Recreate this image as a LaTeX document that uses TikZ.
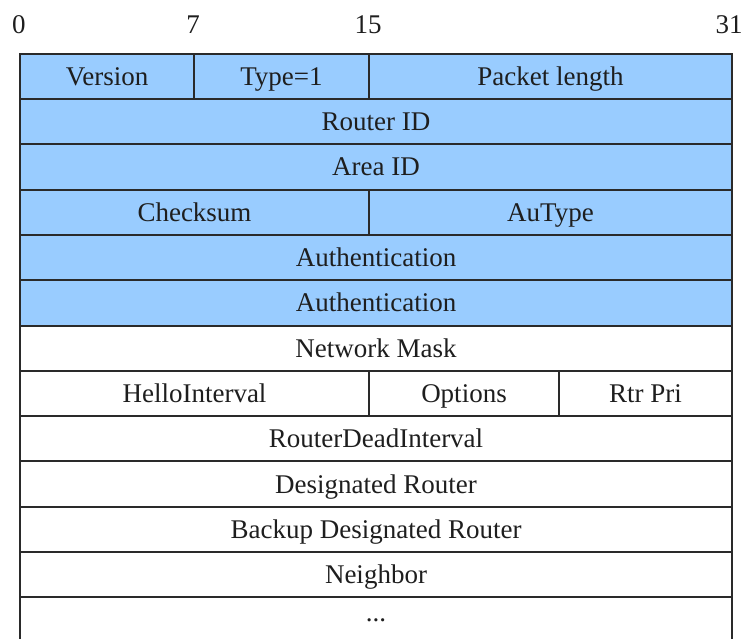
\documentclass[tikz,border=0pt]{standalone}
\usepackage{fontspec}
\setmainfont{Liberation Serif}
\definecolor{hdrblue}{HTML}{99CCFF}
\definecolor{rulegray}{HTML}{2A2A2A}
\definecolor{ink}{HTML}{1E1E1E}
\begin{document}
\begin{tikzpicture}[x=1pt,y=-1pt,
  cell/.style={draw=rulegray, line width=2pt, rectangle, anchor=north west,
    inner sep=0pt, minimum height=45.3pt, text=ink,
    text height=21pt, text depth=3pt,
    font=\fontsize{27}{32}\selectfont},
  hdr/.style={cell, fill=hdrblue},
  bitnum/.style={inner sep=0pt, text=ink, font=\fontsize{27}{32}\selectfont}]
  \path[use as bounding box, clip] (0,0) rectangle (746,639);

  % bit positions
  \node[bitnum] (b0)  at (19,25)  {0};
  \node[bitnum] (b7)  at (193,25) {7};
  \node[bitnum] (b15) at (368,25) {15};
  \node[bitnum] (b31) at (729,25) {31};

  % OSPF common header (shaded)
  \node[hdr, minimum width=174pt] (ver)  at (19,52.7)  {Version};
  \node[hdr, minimum width=175pt] (type) at (193,52.7) {Type=1};
  \node[hdr, minimum width=363pt] (plen) at (368,52.7) {Packet length};
  \node[hdr, minimum width=712pt] (rid)  at (19,98.0)  {Router ID};
  \node[hdr, minimum width=712pt] (aid)  at (19,143.3) {Area ID};
  \node[hdr, minimum width=349pt] (csum) at (19,188.6) {Checksum};
  \node[hdr, minimum width=363pt] (aut)  at (368,188.6) {AuType};
  \node[hdr, minimum width=712pt] (auth1) at (19,233.9) {Authentication};
  \node[hdr, minimum width=712pt] (auth2) at (19,279.2) {Authentication};

  % Hello packet body
  \node[cell, minimum width=712pt] (mask) at (19,324.5) {Network Mask};
  \node[cell, minimum width=349pt] (hint) at (19,369.8) {HelloInterval};
  \node[cell, minimum width=190pt] (opt)  at (368,369.8) {Options};
  \node[cell, minimum width=173pt] (pri)  at (558,369.8) {Rtr Pri};
  \node[cell, minimum width=712pt] (dead) at (19,415.1) {RouterDeadInterval};
  \node[cell, minimum width=712pt] (dr)   at (19,460.4) {Designated Router};
  \node[cell, minimum width=712pt] (bdr)  at (19,505.7) {Backup Designated Router};
  \node[cell, minimum width=712pt] (nbr)  at (19,551.0) {Neighbor};
  \node[cell, minimum width=712pt, text height=3pt, text depth=0pt]
    (more) at (19,596.3) {...};
\end{tikzpicture}
\end{document}
